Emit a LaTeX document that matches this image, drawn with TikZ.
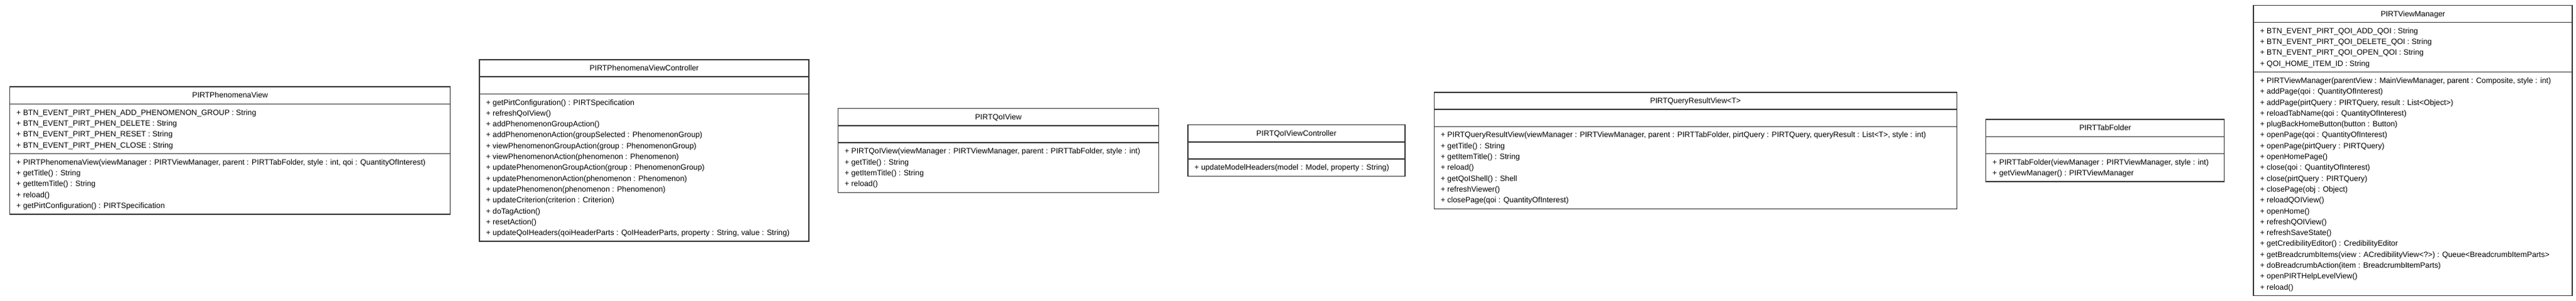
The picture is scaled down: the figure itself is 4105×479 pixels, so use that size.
\documentclass[tikz,border=0pt]{standalone}
\usepackage{fontspec}
\setmainfont{Liberation Sans}
\usetikzlibrary{positioning,shapes.multipart}

\newcommand{\umlstrut}{\rule[-4.5pt]{0pt}{17.3pt}}

\begin{document}
\begin{tikzpicture}
  [x=1pt,y=1pt,node distance=45pt,
   umlclass/.style={rectangle split,rectangle split parts=3,
                    rectangle split part align={center,left,left},
                    rectangle split empty part height=12.8pt,
                    rectangle split empty part depth=4.5pt,
                    draw=black!80,line width=1.4pt,fill=white,align=left,
                    inner xsep=10.5pt,inner ysep=4.25pt,
                    font=\fontsize{12.3}{17.3}\selectfont}]
  \path[use as bounding box] (0,0) rectangle (4105,-479);

  \node[umlclass,minimum width=702pt,anchor=west] (phenview) at (15,-239.5)
    {\umlstrut PIRTPhenomenaView
     \nodepart{two}
     \umlstrut + BTN\_EVENT\_PIRT\_PHEN\_ADD\_PHENOMENON\_GROUP : String\\
     \umlstrut + BTN\_EVENT\_PIRT\_PHEN\_DELETE : String\\
     \umlstrut + BTN\_EVENT\_PIRT\_PHEN\_RESET : String\\
     \umlstrut + BTN\_EVENT\_PIRT\_PHEN\_CLOSE : String
     \nodepart{three}
     \umlstrut + PIRTPhenomenaView(viewManager : PIRTViewManager, parent : PIRTTabFolder, style : int, qoi : QuantityOfInterest)\\
     \umlstrut + getTitle() : String\\
     \umlstrut + getItemTitle() : String\\
     \umlstrut + reload()\\
     \umlstrut + getPirtConfiguration() : PIRTSpecification};

  \node[umlclass,minimum width=525pt] (phenctrl) [right=of phenview]
    {\umlstrut PIRTPhenomenaViewController
     \nodepart{two}
     \nodepart{three}
     \umlstrut + getPirtConfiguration() : PIRTSpecification\\
     \umlstrut + refreshQoIView()\\
     \umlstrut + addPhenomenonGroupAction()\\
     \umlstrut + addPhenomenonAction(groupSelected : PhenomenonGroup)\\
     \umlstrut + viewPhenomenonGroupAction(group : PhenomenonGroup)\\
     \umlstrut + viewPhenomenonAction(phenomenon : Phenomenon)\\
     \umlstrut + updatePhenomenonGroupAction(group : PhenomenonGroup)\\
     \umlstrut + updatePhenomenonAction(phenomenon : Phenomenon)\\
     \umlstrut + updatePhenomenon(phenomenon : Phenomenon)\\
     \umlstrut + updateCriterion(criterion : Criterion)\\
     \umlstrut + doTagAction()\\
     \umlstrut + resetAction()\\
     \umlstrut + updateQoIHeaders(qoiHeaderParts : QoIHeaderParts, property : String, value : String)};

  \node[umlclass,minimum width=511pt] (qoiview) [right=of phenctrl]
    {\umlstrut PIRTQoIView
     \nodepart{two}
     \nodepart{three}
     \umlstrut + PIRTQoIView(viewManager : PIRTViewManager, parent : PIRTTabFolder, style : int)\\
     \umlstrut + getTitle() : String\\
     \umlstrut + getItemTitle() : String\\
     \umlstrut + reload()};

  \node[umlclass,minimum width=346pt] (qoictrl) [right=of qoiview]
    {\umlstrut PIRTQoIViewController
     \nodepart{two}
     \nodepart{three}
     \umlstrut + updateModelHeaders(model : Model, property : String)};

  \node[umlclass,minimum width=833pt] (queryview) [right=of qoictrl]
    {\umlstrut PIRTQueryResultView<T>
     \nodepart{two}
     \nodepart{three}
     \umlstrut + PIRTQueryResultView(viewManager : PIRTViewManager, parent : PIRTTabFolder, pirtQuery : PIRTQuery, queryResult : List<T>, style : int)\\
     \umlstrut + getTitle() : String\\
     \umlstrut + getItemTitle() : String\\
     \umlstrut + reload()\\
     \umlstrut + getQoIShell() : Shell\\
     \umlstrut + refreshViewer()\\
     \umlstrut + closePage(qoi : QuantityOfInterest)};

  \node[umlclass,minimum width=380pt] (tabfolder) [right=of queryview]
    {\umlstrut PIRTTabFolder
     \nodepart{two}
     \nodepart{three}
     \umlstrut + PIRTTabFolder(viewManager : PIRTViewManager, style : int)\\
     \umlstrut + getViewManager() : PIRTViewManager};

  \node[umlclass,minimum width=508pt] (viewmgr) [right=of tabfolder]
    {\umlstrut PIRTViewManager
     \nodepart{two}
     \umlstrut + BTN\_EVENT\_PIRT\_QOI\_ADD\_QOI : String\\
     \umlstrut + BTN\_EVENT\_PIRT\_QOI\_DELETE\_QOI : String\\
     \umlstrut + BTN\_EVENT\_PIRT\_QOI\_OPEN\_QOI : String\\
     \umlstrut + QOI\_HOME\_ITEM\_ID : String
     \nodepart{three}
     \umlstrut + PIRTViewManager(parentView : MainViewManager, parent : Composite, style : int)\\
     \umlstrut + addPage(qoi : QuantityOfInterest)\\
     \umlstrut + addPage(pirtQuery : PIRTQuery, result : List<Object>)\\
     \umlstrut + reloadTabName(qoi : QuantityOfInterest)\\
     \umlstrut + plugBackHomeButton(button : Button)\\
     \umlstrut + openPage(qoi : QuantityOfInterest)\\
     \umlstrut + openPage(pirtQuery : PIRTQuery)\\
     \umlstrut + openHomePage()\\
     \umlstrut + close(qoi : QuantityOfInterest)\\
     \umlstrut + close(pirtQuery : PIRTQuery)\\
     \umlstrut + closePage(obj : Object)\\
     \umlstrut + reloadQOIView()\\
     \umlstrut + openHome()\\
     \umlstrut + refreshQOIView()\\
     \umlstrut + refreshSaveState()\\
     \umlstrut + getCredibilityEditor() : CredibilityEditor\\
     \umlstrut + getBreadcrumbItems(view : ACredibilityView<?>) : Queue<BreadcrumbItemParts>\\
     \umlstrut + doBreadcrumbAction(item : BreadcrumbItemParts)\\
     \umlstrut + openPIRTHelpLevelView()\\
     \umlstrut + reload()};
\end{tikzpicture}
\end{document}
